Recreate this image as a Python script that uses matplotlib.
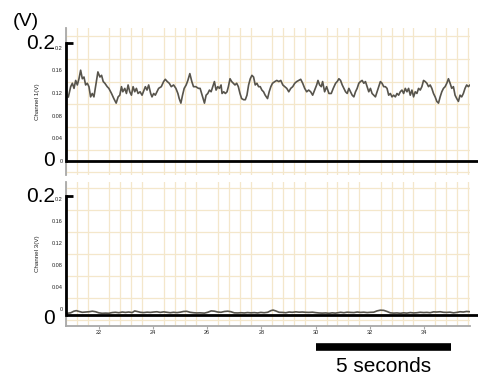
import matplotlib
matplotlib.use("Agg")
import matplotlib.pyplot as plt
import matplotlib.transforms as mtransforms
import numpy as np

plt.rcParams['font.family'] = ['Liberation Sans', 'DejaVu Sans']

# ---- data ----
t1 = [20.887, 20.972, 21.034, 21.095, 21.156, 21.217, 21.278, 21.339, 21.401, 21.462,
      21.523, 21.584, 21.645, 21.706, 21.767, 21.829, 21.890, 21.975, 22.049, 22.110,
      22.171, 22.232, 22.318, 22.379, 22.477, 22.562, 22.648, 22.721, 22.782, 22.844,
      22.893, 22.966, 23.027, 23.088, 23.149, 23.211, 23.272, 23.333, 23.394, 23.455,
      23.529, 23.602, 23.675, 23.724, 23.785, 23.846, 23.920, 23.969, 24.030, 24.091,
      24.152, 24.213, 24.311, 24.397, 24.458, 24.531, 24.605, 24.678, 24.764, 24.849,
      24.923, 24.972, 25.033, 25.094, 25.155, 25.228, 25.290, 25.363, 25.436, 25.498,
      25.583, 25.681, 25.742, 25.902, 25.963, 26.025, 26.086, 26.147, 26.208, 26.269,
      26.330, 26.392, 26.453, 26.514, 26.550, 26.612, 26.673, 26.734, 26.783, 26.844,
      26.905, 26.966, 27.027, 27.089, 27.150, 27.211, 27.272, 27.345, 27.407, 27.468,
      27.529, 27.590, 27.651, 27.712, 27.773, 27.835, 27.896, 27.957, 28.018, 28.079,
      28.140, 28.226, 28.287, 28.348, 28.409, 28.495, 28.568, 28.642, 28.715, 28.789,
      28.862, 28.935, 29.009, 29.082, 29.155, 29.229, 29.302, 29.376, 29.449, 29.522,
      29.596, 29.669, 29.743, 29.816, 29.889, 29.963, 30.036, 30.085, 30.146, 30.207,
      30.256, 30.330, 30.403, 30.489, 30.574, 30.648, 30.734, 30.795, 30.856, 30.917,
      30.979, 31.040, 31.101, 31.162, 31.223, 31.284, 31.346, 31.407, 31.468, 31.529,
      31.590, 31.651, 31.712, 31.774, 31.835, 31.896, 31.957, 32.018, 32.079, 32.141,
      32.202, 32.263, 32.324, 32.385, 32.446, 32.508, 32.569, 32.630, 32.691, 32.752,
      32.813, 32.874, 32.936, 32.997, 33.058, 33.119, 33.180, 33.241, 33.303, 33.364,
      33.425, 33.486, 33.547, 33.608, 33.669, 33.731, 33.792, 33.853, 33.914, 33.975,
      34.036, 34.098, 34.159, 34.220, 34.281, 34.342, 34.403, 34.465, 34.526, 34.587,
      34.648, 34.709, 34.770, 34.832, 34.893, 34.954, 35.015, 35.076, 35.137, 35.199,
      35.260, 35.321, 35.382, 35.443, 35.504, 35.565, 35.627, 35.688]
v1 = [0.113, 0.131, 0.137, 0.128, 0.142, 0.134, 0.145, 0.160, 0.145, 0.148,
      0.134, 0.137, 0.131, 0.113, 0.119, 0.113, 0.131, 0.157, 0.148, 0.151,
      0.140, 0.137, 0.131, 0.128, 0.119, 0.110, 0.102, 0.113, 0.116, 0.131,
      0.122, 0.128, 0.119, 0.134, 0.122, 0.116, 0.131, 0.122, 0.128, 0.119,
      0.122, 0.116, 0.125, 0.131, 0.125, 0.134, 0.119, 0.113, 0.119, 0.116,
      0.122, 0.128, 0.131, 0.140, 0.144, 0.140, 0.137, 0.131, 0.134, 0.128,
      0.119, 0.110, 0.102, 0.116, 0.128, 0.134, 0.142, 0.154, 0.140, 0.131,
      0.131, 0.128, 0.128, 0.102, 0.116, 0.119, 0.125, 0.122, 0.131, 0.140,
      0.125, 0.131, 0.128, 0.134, 0.119, 0.122, 0.119, 0.122, 0.131, 0.145,
      0.140, 0.137, 0.134, 0.137, 0.131, 0.119, 0.110, 0.108, 0.108, 0.116,
      0.134, 0.145, 0.151, 0.148, 0.134, 0.137, 0.131, 0.131, 0.125, 0.122,
      0.116, 0.110, 0.122, 0.131, 0.137, 0.140, 0.142, 0.140, 0.142, 0.134,
      0.131, 0.128, 0.122, 0.128, 0.131, 0.137, 0.140, 0.142, 0.144, 0.137,
      0.128, 0.122, 0.125, 0.122, 0.116, 0.125, 0.134, 0.142, 0.134, 0.131,
      0.140, 0.122, 0.131, 0.119, 0.119, 0.128, 0.137, 0.140, 0.145, 0.142,
      0.134, 0.128, 0.122, 0.119, 0.128, 0.122, 0.116, 0.113, 0.122, 0.128,
      0.137, 0.140, 0.142, 0.137, 0.140, 0.131, 0.122, 0.128, 0.119, 0.116,
      0.113, 0.122, 0.131, 0.140, 0.137, 0.131, 0.131, 0.128, 0.116, 0.119,
      0.113, 0.116, 0.113, 0.119, 0.116, 0.122, 0.125, 0.119, 0.128, 0.122,
      0.128, 0.116, 0.125, 0.113, 0.122, 0.119, 0.128, 0.125, 0.131, 0.142,
      0.140, 0.137, 0.131, 0.134, 0.128, 0.119, 0.113, 0.105, 0.102, 0.113,
      0.122, 0.128, 0.131, 0.137, 0.145, 0.137, 0.128, 0.131, 0.116, 0.110,
      0.105, 0.116, 0.113, 0.119, 0.128, 0.134, 0.131, 0.134]

t3 = [20.85, 20.97, 21.09, 21.18, 21.28, 21.40, 21.52, 21.65, 21.77, 21.89,
      22.01, 22.13, 22.26, 22.38, 22.50, 22.62, 22.75, 22.87, 22.99, 23.11,
      23.24, 23.33, 23.42, 23.54, 23.66, 23.79, 23.91, 24.03, 24.15, 24.27,
      24.40, 24.52, 24.64, 24.76, 24.89, 25.01, 25.13, 25.25, 25.37, 25.50,
      25.62, 25.74, 25.90, 26.02, 26.15, 26.27, 26.39, 26.51, 26.64, 26.76,
      26.88, 27.00, 27.13, 27.25, 27.37, 27.49, 27.61, 27.74, 27.86, 27.98,
      28.10, 28.23, 28.35, 28.43, 28.53, 28.65, 28.78, 28.90, 29.02, 29.14,
      29.27, 29.39, 29.51, 29.63, 29.75, 29.88, 30.00, 30.12, 30.24, 30.37,
      30.49, 30.61, 30.73, 30.92, 31.04, 31.16, 31.28, 31.41, 31.53, 31.65,
      31.77, 31.90, 32.02, 32.14, 32.26, 32.38, 32.51, 32.63, 32.75, 32.87,
      33.00, 33.12, 33.24, 33.36, 33.49, 33.61, 33.73, 33.85, 33.98, 34.10,
      34.22, 34.34, 34.46, 34.59, 34.71, 34.83, 34.95, 35.08, 35.20, 35.32,
      35.44, 35.56, 35.69]
v3 = [-0.0078, -0.0070, -0.0040, -0.0030, -0.0045, -0.0060, -0.0055, -0.0050, -0.0040, -0.0050,
      -0.0070, -0.0078, -0.0075, -0.0078, -0.0065, -0.0060, -0.0068, -0.0055, -0.0062, -0.0055,
      -0.0065, -0.0035, -0.0045, -0.0060, -0.0065, -0.0058, -0.0062, -0.0055, -0.0050, -0.0062,
      -0.0052, -0.0060, -0.0068, -0.0060, -0.0066, -0.0058, -0.0045, -0.0042, -0.0060, -0.0068,
      -0.0072, -0.0070, -0.0075, -0.0060, -0.0035, -0.0040, -0.0055, -0.0060, -0.0045, -0.0040,
      -0.0050, -0.0070, -0.0072, -0.0068, -0.0072, -0.0065, -0.0070, -0.0066, -0.0072, -0.0062,
      -0.0068, -0.0060, -0.0030, -0.0020, -0.0035, -0.0060, -0.0062, -0.0068, -0.0055, -0.0060,
      -0.0052, -0.0058, -0.0055, -0.0060, -0.0062, -0.0058, -0.0066, -0.0072, -0.0075, -0.0072,
      -0.0078, -0.0070, -0.0075, -0.0060, -0.0068, -0.0058, -0.0062, -0.0065, -0.0055, -0.0062,
      -0.0058, -0.0065, -0.0060, -0.0058, -0.0035, -0.0022, -0.0025, -0.0045, -0.0070, -0.0075,
      -0.0072, -0.0078, -0.0070, -0.0075, -0.0065, -0.0072, -0.0068, -0.0060, -0.0065, -0.0062,
      -0.0068, -0.0052, -0.0055, -0.0050, -0.0060, -0.0062, -0.0058, -0.0070, -0.0062, -0.0050,
      -0.0055, -0.0045, -0.0050]

y_ticks = [0, 0.04, 0.08, 0.12, 0.16, 0.2]
y_tick_labels = ["0", "0.04", "0.08", "0.12", "0.16", "0.2"]
x_ticks = [22, 24, 26, 28, 30, 32, 34]
x_tick_labels = ["22", "24", "26", "28", "30", "32", "34"]
channel_labels = ["Channel 1(V)", "Channel 3(V)"]
scale_bar = [30, 35]
scale_label = "5 seconds"
unit_label = "(V)"

XLIM = (20.862, 35.688)
GRID_C = "#f4e7cb"
TRACE_C = "#57544c"
SPINE_C = "#a8a8a8"

fig = plt.figure(figsize=(4.78, 3.76), dpi=100)
ax1 = fig.add_axes([0.1381, 0.5346, 0.8452, 0.3909])
ax2 = fig.add_axes([0.1381, 0.1330, 0.8452, 0.3830])
ax1.set_ylim(-0.0247, 0.2344)
ax2.set_ylim(-0.0309, 0.2309)

for ax, lab in zip((ax1, ax2), channel_labels):
    ax.set_xlim(*XLIM)
    ax.set_xticks(np.arange(20.8, 36.0, 0.4), minor=True)
    ax.set_yticks(np.arange(-0.02, 0.24, 0.02), minor=True)
    ax.grid(True, which='minor', color=GRID_C, lw=0.9, zorder=0)
    ax.set_axisbelow(True)
    for s in ('top', 'right'):
        ax.spines[s].set_visible(False)
    ax.spines['left'].set_color(SPINE_C)
    ax.spines['left'].set_linewidth(1.3)
    ax.set_yticks(y_ticks)
    ax.set_yticklabels(y_tick_labels)
    ax.tick_params(axis='y', which='both', length=0, pad=2.5, labelsize=4, labelcolor='#222222')
    ax.tick_params(axis='x', which='minor', length=0)
    ax.set_ylabel(lab, fontsize=4.5, color='#222222')
    ax.yaxis.set_label_coords(-0.064, 0.5)

ax1.spines['bottom'].set_visible(False)
ax1.tick_params(axis='x', which='both', length=0, labelbottom=False)
ax2.spines['bottom'].set_color(SPINE_C)
ax2.spines['bottom'].set_linewidth(1.3)
ax2.set_xticks(x_ticks)
ax2.set_xticklabels(x_tick_labels)
ax2.tick_params(axis='x', which='major', length=2, color=SPINE_C, pad=1, labelsize=4, labelcolor='#222222')

ax1.plot(t1, v1, color=TRACE_C, lw=1.2, zorder=3)
ax2.plot(t3, v3, color=TRACE_C, lw=1.2, zorder=3)

# annotation overlay: baseline, vertical scale marker, big labels
def overlay(ax, base, top):
    tr = mtransforms.blended_transform_factory(ax.transAxes, ax.transData)
    ax.plot([0, 1.03], [base, base], transform=tr, color='black', lw=2.0, clip_on=False, zorder=5,
            solid_capstyle='butt')
    ax.plot([0.0, 0.0], [base, top], transform=tr, color='black', lw=2.0, clip_on=False, zorder=5,
            solid_capstyle='projecting')
    ax.plot([0.0, 0.018], [top, top], transform=tr, color='black', lw=2.0, clip_on=False, zorder=5,
            solid_capstyle='butt')

overlay(ax1, 0.0, 0.208)
overlay(ax2, -0.0115, 0.2055)

fig.text(55 / 478, 1 - 43.5 / 376, "0.2", fontsize=15, ha='right', va='center')
fig.text(55 / 478, 1 - 161 / 376, "0", fontsize=15, ha='right', va='center')
fig.text(55 / 478, 1 - 196.5 / 376, "0.2", fontsize=15, ha='right', va='center')
fig.text(55 / 478, 1 - 318 / 376, "0", fontsize=15, ha='right', va='center')
fig.text(26 / 478, 1 - 21 / 376, unit_label, fontsize=14, ha='center', va='center')

trb = mtransforms.blended_transform_factory(ax2.transData, ax2.transAxes)
ax2.plot(scale_bar, [-0.146, -0.146], transform=trb, color='black', lw=5.5, clip_on=False,
         solid_capstyle='butt')
ax2.text(np.mean(scale_bar), -0.278, scale_label, transform=trb, fontsize=15, ha='center', va='center')

fig.savefig("out.png", dpi=100)
